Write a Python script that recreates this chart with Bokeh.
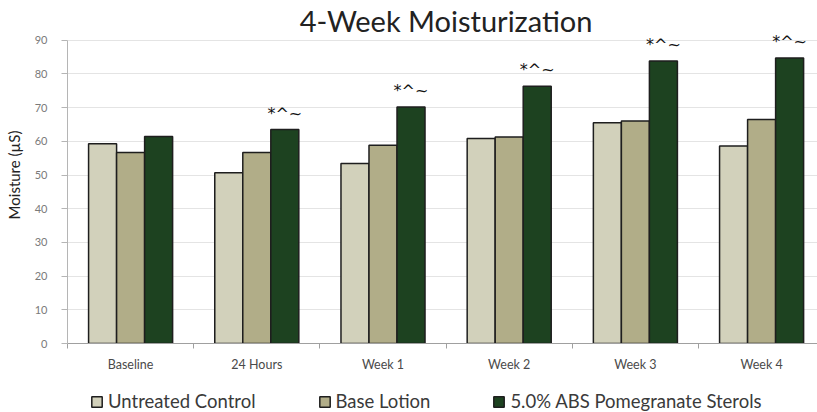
from bokeh.plotting import figure
from bokeh.layouts import column
from bokeh.models import (ColumnDataSource, FixedTicker, Range1d, Legend,
                          LegendItem, CustomJSTickFormatter, Label)
from bokeh.core.properties import value
from bokeh.embed import file_html
from bokeh.resources import INLINE

categories = ["Baseline", "24 Hours", "Week 1", "Week 2", "Week 3", "Week 4"]
untreated = [59.3, 50.7, 53.4, 60.8, 65.5, 58.6]
base_lotion = [56.7, 56.7, 58.8, 61.3, 66.0, 66.5]
abs_sterols = [61.4, 63.5, 70.2, 76.3, 83.8, 84.7]
marks = ["", "*^~", "*^~", "*^~", "*^~", "*^~"]
series_names = ["Untreated Control", "Base Lotion", "5.0% ABS Pomegranate Sterols"]
y_ticks = [0, 10, 20, 30, 40, 50, 60, 70, 80, 90]
title_text = "4-Week Moisturization"

colors = ["#d2d1bb", "#b1ad88", "#1d4220"]
bar_w = 0.222
offsets = [-bar_w, 0.0, bar_w]
centers = [i + 0.5 for i in range(len(categories))]
series = [untreated, base_lotion, abs_sterols]

p = figure(width=817, height=380, output_backend="svg", toolbar_location=None,
           x_range=Range1d(0, 5.943), y_range=Range1d(0, 100), title=None,
           min_border_left=67, min_border_right=0, min_border_top=6,
           min_border_bottom=37)
p.outline_line_color = None
p.background_fill_color = "white"

for vals, off, col in zip(series, offsets, colors):
    src = ColumnDataSource(dict(x=[c + off for c in centers], top=vals))
    p.vbar(x="x", top="top", width=bar_w, bottom=0, source=src,
           fill_color=col, line_color="#1e1e1e", line_width=1.5)

msrc = ColumnDataSource(dict(x=[c + offsets[2] for c in centers], y=abs_sterols, t=marks))
p.text(x="x", y="y", text="t", source=msrc, text_align="center",
       text_baseline="bottom", y_offset=-7, text_font_size="16px",
       text_font=value("DejaVu Sans"), text_color="#111111")

# title (inside the frame area above the 90 line)
p.add_layout(Label(x=3.0, y=95.7, text=title_text, text_align="center",
                   text_baseline="alphabetic", text_font="Lato",
                   text_font_size="29px", text_color="#222222"))

# y axis
p.yaxis.ticker = FixedTicker(ticks=y_ticks)
p.yaxis.bounds = (0, 90)
p.yaxis.major_label_text_font = "Lato"
p.yaxis.major_label_text_font_size = "11px"
p.yaxis.major_label_text_color = "#7a7a7a"
p.yaxis.major_tick_out = 6
p.yaxis.major_tick_in = 0
p.yaxis.minor_tick_line_color = None
p.yaxis.major_tick_line_color = "#b5b5b5"
p.yaxis.axis_line_color = "#b5b5b5"
p.yaxis.major_label_standoff = 14
p.yaxis.axis_label = "Moisture (µS)"
p.yaxis.axis_label_text_font = "Lato"
p.yaxis.axis_label_text_font_size = "15px"
p.yaxis.axis_label_text_font_style = "normal"
p.yaxis.axis_label_text_color = "#222222"
p.yaxis.axis_label_standoff = 9

# x axis
p.xaxis.ticker = FixedTicker(ticks=centers, minor_ticks=list(range(len(categories) + 1)))
p.xaxis.formatter = CustomJSTickFormatter(
    args=dict(labels=categories),
    code="return labels[Math.round(tick - 0.5)];")
p.xaxis.major_label_text_font = "Lato"
p.xaxis.major_label_text_font_size = "12.5px"
p.xaxis.major_label_text_color = "#4a4a4a"
p.xaxis.major_tick_line_color = None
p.xaxis.minor_tick_line_color = "#a0a0a0"
p.xaxis.minor_tick_in = 0
p.xaxis.minor_tick_out = 5
p.xaxis.axis_line_color = "#a0a0a0"
p.xaxis.major_label_standoff = 7

p.xgrid.grid_line_color = None
p.ygrid.ticker = FixedTicker(ticks=y_ticks)
p.ygrid.grid_line_color = "#e4e4e4"
p.ygrid.grid_line_width = 1

# legend strip: swatch-only renderers (a single non-drawable row each)
q = figure(width=817, height=32, output_backend="svg", toolbar_location=None,
           x_range=Range1d(0, 1), y_range=Range1d(0, 1),
           min_border_left=0, min_border_right=0, min_border_top=0,
           min_border_bottom=0)
q.axis.visible = False
q.grid.visible = False
q.outline_line_color = None
leg_renderers = []
for col in colors:
    r = q.vbar(x=[float("nan")], top=[float("nan")], width=0.1,
               fill_color=col, line_color="#1e1e1e", line_width=1.5)
    leg_renderers.append(r)
items = [LegendItem(label=n, renderers=[r]) for n, r in zip(series_names, leg_renderers)]
lg = Legend(items=items, location=(23, 0), orientation="horizontal",
            padding=0, margin=0, spacing=62,
            glyph_width=13, glyph_height=13, label_standoff=5,
            label_height=20, label_text_font="Lato", label_text_font_size="18.5px",
            label_text_color="#3a3a3a", background_fill_alpha=0,
            border_line_color=None)
q.add_layout(lg, "center")

layout = column(p, q, spacing=0)
open("out.html", "w").write(file_html(layout, INLINE))
